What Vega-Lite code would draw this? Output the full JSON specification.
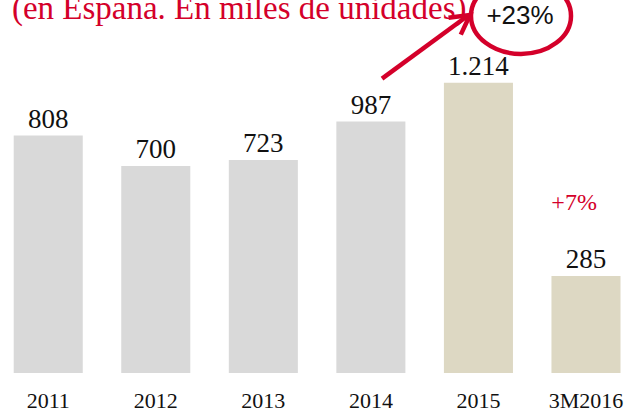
{
  "$schema": "https://vega.github.io/schema/vega-lite/v6.json",
  "width": 625,
  "height": 373,
  "autosize": {"type": "none"},
  "padding": {"left": 0, "top": 0, "right": 0, "bottom": 38},
  "background": "white",
  "config": {"view": {"stroke": null}},
  "datasets": {
    "sales": [
      {"year": "2011", "value": 808, "label": "808", "kind": "annual"},
      {"year": "2012", "value": 700, "label": "700", "kind": "annual"},
      {"year": "2013", "value": 723, "label": "723", "kind": "annual"},
      {"year": "2014", "value": 987, "label": "987", "kind": "annual"},
      {"year": "2015", "value": 1214, "label": "1.214", "kind": "highlight"},
      {"year": "3M2016", "value": 285, "label": "285", "kind": "highlight"}
    ],
    "notes": [
      {"kind": "title", "text": "(en España. En miles de unidades)", "u": -0.337, "v": 1434},
      {"kind": "arrow", "text": "", "u": 3.104, "v": 1228},
      {"kind": "arrow", "text": "", "u": 3.885, "v": 1441},
      {"kind": "arrowhead", "text": "", "u": 3.922, "v": 1448},
      {"kind": "circle", "text": "", "u": 4.396, "v": 1445},
      {"kind": "growth", "text": "+23%", "u": 4.387, "v": 1445},
      {"kind": "growthq", "text": "+7%", "u": 4.89, "v": 534}
    ]
  },
  "layer": [
    {
      "data": {"name": "sales"},
      "encoding": {
        "x": {
          "field": "year",
          "type": "nominal",
          "sort": null,
          "scale": {"paddingInner": 0.358, "paddingOuter": 0.0846, "align": 0.753},
          "axis": {
            "title": null,
            "domain": false,
            "ticks": false,
            "tickSize": 0,
            "labelAngle": 0,
            "labelPadding": 34,
            "labelBaseline": "alphabetic",
            "labelFont": "Liberation Serif",
            "labelFontSize": 22,
            "labelColor": "#111111"
          }
        },
        "y": {
          "field": "value",
          "type": "quantitative",
          "axis": null,
          "scale": {"type": "linear", "domain": [0, 285, 700, 723, 808, 987, 1214, 1500], "range": [373, 276, 166, 160, 135.5, 121.5, 82.7, 0], "nice": false, "zero": false}
        }
      },
      "layer": [
        {
          "mark": {"type": "bar"},
          "encoding": {
            "color": {
              "field": "kind",
              "type": "nominal",
              "scale": {"domain": ["annual", "highlight"], "range": ["#d9d9d9", "#ddd8c3"]},
              "legend": null
            }
          }
        },
        {
          "mark": {"type": "text", "dy": -8, "baseline": "alphabetic", "align": "center", "font": "Liberation Serif", "fontSize": 27, "color": "#111111"},
          "encoding": {"text": {"field": "label"}}
        }
      ]
    },
    {
      "data": {"name": "notes"},
      "encoding": {
        "x": {"field": "u", "type": "quantitative", "axis": null, "scale": {"domain": [-0.448, 5.363], "nice": false, "zero": false}},
        "y": {
          "field": "v",
          "type": "quantitative",
          "axis": null,
          "scale": {"type": "linear", "domain": [0, 285, 700, 723, 808, 987, 1214, 1500], "range": [373, 276, 166, 160, 135.5, 121.5, 82.7, 0], "nice": false, "zero": false}
        }
      },
      "layer": [
        {
          "transform": [{"filter": "datum.kind == 'title'"}],
          "mark": {"type": "text", "align": "left", "baseline": "alphabetic", "font": "Liberation Serif", "fontSize": 33, "color": "#d4002a"},
          "encoding": {"text": {"field": "text"}}
        },
        {
          "transform": [{"filter": "datum.kind == 'arrow'"}],
          "mark": {"type": "line", "color": "#d4002a", "strokeWidth": 4.5, "strokeCap": "butt"}
        },
        {
          "transform": [{"filter": "datum.kind == 'arrowhead'"}],
          "mark": {"type": "point", "shape": "M-0.55,1L0,0L0.55,1", "filled": false, "stroke": "#d4002a", "strokeWidth": 4.5, "strokeJoin": "miter", "size": 1444, "angle": 54, "opacity": 1}
        },
        {
          "transform": [{"filter": "datum.kind == 'circle'"}],
          "mark": {"type": "point", "shape": "M-1.316,0A1.316,1 0 1,1 1.316,0A1.316,1 0 1,1 -1.316,0Z", "filled": false, "stroke": "#d4002a", "strokeWidth": 4.5, "size": 5776, "opacity": 1}
        },
        {
          "transform": [{"filter": "datum.kind == 'growth'"}],
          "mark": {"type": "text", "align": "center", "baseline": "middle", "font": "Liberation Sans", "fontSize": 26, "color": "#111111"},
          "encoding": {"text": {"field": "text"}}
        },
        {
          "transform": [{"filter": "datum.kind == 'growthq'"}],
          "mark": {"type": "text", "align": "center", "baseline": "alphabetic", "font": "Liberation Serif", "fontSize": 24, "color": "#d4002a"},
          "encoding": {"text": {"field": "text"}}
        }
      ]
    }
  ],
  "resolve": {"scale": {"x": "independent"}, "axis": {"x": "independent"}}
}
